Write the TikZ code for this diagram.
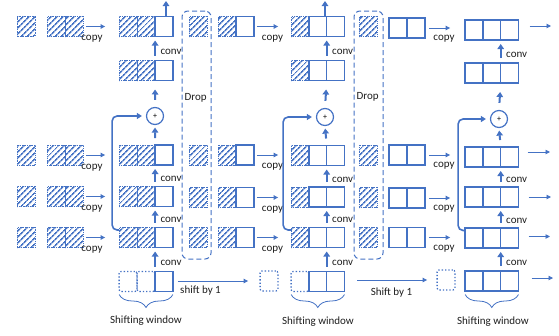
\documentclass[tikz,border=0pt]{standalone}
\usepackage{fontspec}
\setmainfont{Carlito}
\usetikzlibrary{arrows.meta,patterns.meta,calc,decorations.pathreplacing}
\definecolor{mblue}{RGB}{68,114,196}
\definecolor{txt}{RGB}{30,30,30}
\begin{document}
\begin{tikzpicture}[x=1pt,y=-1pt,
  cellbase/.style={minimum width=17.8pt,minimum height=20pt,inner sep=0pt,outer sep=0pt},
  hcell/.style={cellbase,draw=mblue,densely dotted,line width=0.8pt,pattern={Lines[angle=45,distance=4pt,line width=1.6pt]},pattern color=mblue},
  wcell/.style={cellbase,draw=mblue,line width=1.3pt},
  dcell/.style={cellbase,draw=mblue,dotted,line width=1.3pt,rounded corners=2pt},
  dropbox/.style={draw=mblue,line width=1pt,dash pattern=on 5pt off 3pt,rounded corners=6pt,minimum width=29pt,minimum height=248pt,inner sep=0pt},
  lbl/.style={font=\fontsize{11}{13}\selectfont,text=txt,inner sep=0pt},
  cpy/.style={draw=mblue,line width=0.9pt,-{Triangle[length=4.5pt,width=4.5pt]}},
  thk/.style={draw=mblue,line width=2pt,-{Triangle[length=5pt,width=6.5pt]}},
  skipln/.style={draw=mblue,line width=1.6pt,rounded corners=5pt,-{Triangle[length=5pt,width=6pt]}},
  plus/.style={circle,draw=mblue,line width=1.2pt,minimum size=17pt,inner sep=0pt,font=\fontsize{8}{8}\selectfont},
  brc/.style={draw=mblue,line width=0.8pt,decorate,decoration={brace,mirror,amplitude=13pt}}
]
\useasboundingbox (0,0) rectangle (559,335);

% ---------- group 1 inputs ----------
\foreach \r/\y in {T/26.5,A/155,B/196.5,C/237.5}{
  \node[hcell] (g1\r s) at (26,\y) {};
  \node[hcell] (g1\r1) at (56,\y) {};
  \node[hcell] (g1\r2) at (74,\y) {};
}
% ---------- column 1 ----------
\foreach \r/\y in {T/26.5,U/70.5,A/155,B/196.5,C/237.5}{
  \node[hcell] (c1\r1) at (128,\y) {};
  \node[hcell] (c1\r2) at (146,\y) {};
  \node[wcell] (c1\r3) at (164,\y) {};
}
\node[dcell] (c1D1) at (128,281.5) {};
\node[dcell] (c1D2) at (146,281.5) {};
\node[wcell] (c1D3) at (164,281.5) {};
\node[plus] (p1) at (155,116) {+};

% ---------- drop 1 ----------
\node[dropbox] (drop1) at (196.5,135) {};
\node[lbl,anchor=west] (dl1) at (184.5,98) {Drop};
\foreach \r/\y in {T/26.5,A/155,B/197.5,C/237}{
  \node[hcell] (d1\r) at (198,\y) {};
}

% ---------- group 2 inputs ----------
\foreach \r/\y in {T/26.5,A/155,B/197.5,C/237.5}{
  \node[hcell] (g2\r1) at (227,\y) {};
  \node[wcell] (g2\r2) at (245,\y) {};
}
% ---------- column 2 ----------
\foreach \r/\y in {T/26.5,U/70.5,A/155.5,B/197,C/237.5}{
  \node[hcell] (c2\r1) at (300,\y) {};
  \node[wcell] (c2\r2) at (317.8,\y) {};
  \node[wcell] (c2\r3) at (335.6,\y) {};
}
\node[dcell] (c2D1) at (300,281.5) {};
\node[wcell] (c2D2) at (317.8,281.5) {};
\node[wcell] (c2D3) at (335.6,281.5) {};
\node[plus] (p2) at (325,117) {+};

% ---------- drop 2 ----------
\node[dropbox] (drop2) at (368.5,135) {};
\node[lbl,anchor=west] (dl2) at (356.5,97) {Drop};
\foreach \r/\y in {T/26.5,A/155,B/197.5,C/237}{
  \node[hcell] (d2\r) at (368,\y) {};
}

% ---------- group 3 inputs ----------
\foreach \r/\y in {T/28,A/155,B/198,C/237.5}{
  \node[wcell] (g3\r1) at (398,\y) {};
  \node[wcell] (g3\r2) at (416,\y) {};
}
% ---------- column 3 ----------
\foreach \r/\y in {T/30,U/73,A/157,B/197,C/238,D/281}{
  \node[wcell] (c3\r1) at (474,\y) {};
  \node[wcell] (c3\r2) at (491.8,\y) {};
  \node[wcell] (c3\r3) at (509.6,\y) {};
}
\node[plus] (p3) at (499,119) {+};

% bottom dotted singles
\node[dcell] (s1) at (269,281) {};
\node[dcell] (s2) at (446,280) {};

% ---------- copy arrows ----------
\foreach \r in {T,A,B,C}{
  \draw[cpy,shorten <=3pt,shorten >=14pt] (g1\r2.east) -- (c1\r1.west) node[lbl,pos=0.25,below=8.5pt]{copy};
  \draw[cpy,shorten <=3pt,shorten >=13pt] (g2\r2.east) -- (g2\r2.east -| c2\r1.west) node[lbl,pos=0.5,below=8pt]{copy};
  \draw[cpy,shorten <=4pt,shorten >=15pt] (g3\r2.east) -- (g3\r2.east -| c3\r1.west) node[lbl,pos=0.475,below=7pt]{copy};
}

% ---------- conv arrows ----------
\foreach \c in {1,2,3}{
  \draw[thk,shorten <=5pt,shorten >=4pt] (c\c U3.north west) -- (c\c T3.south west) node[lbl,pos=0.35,anchor=west,xshift=4.5pt]{conv};
  \draw[thk,shorten <=5pt,shorten >=4pt] (c\c B3.north west) -- (c\c A3.south west) node[lbl,pos=0.35,anchor=west,xshift=4.5pt]{conv};
  \draw[thk,shorten <=5pt,shorten >=4pt] (c\c C3.north west) -- (c\c B3.south west) node[lbl,pos=0.35,anchor=west,xshift=4.5pt]{conv};
  \draw[thk,shorten <=5pt,shorten >=4pt] (c\c D3.north west) -- (c\c C3.south west) node[lbl,pos=0.35,anchor=west,xshift=4.5pt]{conv};
  % into and out of the adder
  \draw[thk,shorten <=7pt,shorten >=2.5pt] (c\c A3.north west) -- (p\c.south);
  \draw[thk,shorten <=7pt,shorten >=9pt] (p\c.north) -- (c\c U3.south west);
}

% ---------- skip connections ----------
\draw[skipln,shorten >=4pt] ($(c1C1.north west)+(0,2.5)$) -- ++(-7,0) |- (p1.west);
\draw[skipln,shorten >=4pt] ($(c2C1.north west)+(0,2.5)$) -- ++(-8,0) |- (p2.west);
\draw[skipln,shorten >=4pt] ($(c3C1.north west)+(0,2.5)$) -- ++(-7,0) |- (p3.west);

% ---------- top up arrows ----------
\coordinate (up1) at (166,1);
\coordinate (up2) at (325,1);
\draw[thk] (up1 |- c1T3.north) -- (up1);
\draw[thk] (up2 |- c2T3.north) -- (up2);

% ---------- output arrows of column 3 ----------
\coordinate (oT) at (551,26);
\coordinate (oA) at (550,152);
\coordinate (oB) at (551,197);
\coordinate (oC) at (550,236.5);
\coordinate (oD) at (553,278);
\draw[cpy,shorten <=11pt] (c3T3.east |- oT) -- (oT);
\draw[cpy,shorten <=9pt] (c3A3.east |- oA) -- (oA);
\draw[cpy,shorten <=10pt] (c3B3.east |- oB) -- (oB);
\draw[cpy,shorten <=10pt] (c3C3.east |- oC) -- (oC);
\draw[cpy,shorten <=13pt] (c3D3.east |- oD) -- (oD);

% ---------- shift arrows ----------
\draw[cpy,shorten <=5pt,shorten >=12pt] (c1D3.east |- s1.west) -- (s1.west);
\node[lbl,anchor=west] (sh1) at (180,290.5) {shift by 1};
\draw[cpy,shorten <=12.5pt,shorten >=10pt] (c2D3.east |- s2.west) -- (s2.west);
\node[lbl] (sh2) at (391.5,293) {Shift by 1};

% ---------- braces ----------
\draw[brc] ($(c1D1.south west)+(0,3)$) -- ($(c1D3.south east)+(0,3)$);
\draw[brc] ($(c2D1.south west)+(0,3)$) -- ($(c2D3.south east)+(0,3)$);
\draw[brc] ($(c3D1.south west)+(0,3.5)$) -- ($(c3D3.south east)+(0,3.5)$);
\node[lbl] (sw1) at (146,321) {Shifting window};
\node[lbl] (sw2) at (318,322) {Shifting window};
\node[lbl] (sw3) at (493,322) {Shifting window};
\end{tikzpicture}
\end{document}
